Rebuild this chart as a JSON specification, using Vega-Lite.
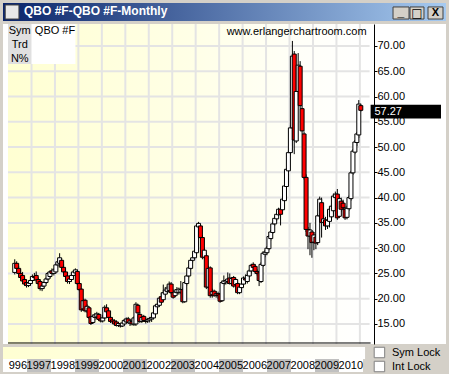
{
"$schema": "https://vega.github.io/schema/vega-lite/v6.json",
"background": "#d4d0c8",
"padding": {"left": 3, "right": 3, "top": 3, "bottom": 2},
"spacing": 2,
"config": {"view": {"stroke": null}, "font": "Liberation Sans"},
"resolve": {"scale": {"x": "independent", "y": "independent"}},
"datasets": {
"q": [
{"d":"1996-04-15","o":25.2,"h":27.8,"l":24.8,"c":27.0},
{"d":"1996-05-15","o":27.0,"h":27.4,"l":25.5,"c":26.0},
{"d":"1996-06-15","o":26.0,"h":26.5,"l":24.8,"c":25.0},
{"d":"1996-07-15","o":25.0,"h":25.8,"l":23.8,"c":24.2},
{"d":"1996-08-15","o":24.6,"h":25.3,"l":23.2,"c":23.5},
{"d":"1996-09-15","o":23.8,"h":24.2,"l":22.6,"c":22.9},
{"d":"1996-10-15","o":23.2,"h":23.6,"l":22.2,"c":22.6},
{"d":"1996-11-15","o":22.6,"h":23.4,"l":22.3,"c":23.1},
{"d":"1996-12-15","o":23.0,"h":23.9,"l":22.6,"c":23.6},
{"d":"1997-01-15","o":23.6,"h":24.8,"l":23.2,"c":24.4},
{"d":"1997-02-15","o":24.4,"h":25.1,"l":23.8,"c":24.2},
{"d":"1997-03-15","o":24.6,"h":25.4,"l":23.4,"c":23.7},
{"d":"1997-04-15","o":23.8,"h":24.2,"l":22.8,"c":23.0},
{"d":"1997-05-15","o":23.4,"h":23.8,"l":21.6,"c":22.0},
{"d":"1997-06-15","o":22.0,"h":22.8,"l":21.5,"c":22.5},
{"d":"1997-07-15","o":22.5,"h":23.4,"l":22.0,"c":23.2},
{"d":"1997-08-15","o":23.2,"h":24.2,"l":22.9,"c":23.9},
{"d":"1997-09-15","o":23.9,"h":25.3,"l":23.6,"c":25.0},
{"d":"1997-10-15","o":24.4,"h":25.6,"l":24.1,"c":25.3},
{"d":"1997-11-15","o":25.5,"h":26.0,"l":24.7,"c":25.0},
{"d":"1997-12-15","o":25.0,"h":26.0,"l":24.6,"c":25.7},
{"d":"1998-01-15","o":25.3,"h":27.0,"l":25.0,"c":26.7},
{"d":"1998-02-15","o":26.7,"h":27.8,"l":26.2,"c":27.3},
{"d":"1998-03-15","o":27.0,"h":29.0,"l":26.8,"c":28.1},
{"d":"1998-04-15","o":27.6,"h":28.0,"l":25.8,"c":26.2},
{"d":"1998-05-15","o":26.2,"h":26.8,"l":25.0,"c":25.3},
{"d":"1998-06-15","o":25.3,"h":25.8,"l":24.0,"c":24.4},
{"d":"1998-07-15","o":24.5,"h":24.9,"l":23.0,"c":23.4},
{"d":"1998-08-15","o":23.4,"h":24.3,"l":22.9,"c":23.9},
{"d":"1998-09-15","o":23.8,"h":25.0,"l":23.4,"c":24.6},
{"d":"1998-10-15","o":24.6,"h":25.6,"l":24.3,"c":25.3},
{"d":"1998-11-15","o":25.1,"h":26.0,"l":24.7,"c":25.7},
{"d":"1998-12-15","o":25.4,"h":25.8,"l":22.7,"c":23.0},
{"d":"1999-01-15","o":23.0,"h":23.4,"l":21.5,"c":21.8},
{"d":"1999-02-15","o":21.9,"h":22.0,"l":17.4,"c":17.8},
{"d":"1999-03-15","o":18.0,"h":20.0,"l":17.6,"c":19.6},
{"d":"1999-04-15","o":19.7,"h":20.0,"l":17.3,"c":17.6},
{"d":"1999-05-15","o":17.6,"h":18.9,"l":17.2,"c":18.5},
{"d":"1999-06-15","o":18.2,"h":18.5,"l":16.0,"c":16.3},
{"d":"1999-07-15","o":16.4,"h":16.6,"l":14.8,"c":15.1},
{"d":"1999-08-15","o":15.3,"h":16.9,"l":15.0,"c":16.5},
{"d":"1999-09-15","o":16.3,"h":17.2,"l":15.8,"c":16.8},
{"d":"1999-10-15","o":16.4,"h":17.4,"l":16.0,"c":17.0},
{"d":"1999-11-15","o":16.9,"h":17.2,"l":15.6,"c":15.9},
{"d":"1999-12-15","o":16.0,"h":16.4,"l":15.3,"c":15.6},
{"d":"2000-01-15","o":15.6,"h":16.8,"l":15.3,"c":16.2},
{"d":"2000-02-15","o":16.2,"h":18.7,"l":16.0,"c":18.3},
{"d":"2000-03-15","o":18.2,"h":18.9,"l":17.0,"c":17.4},
{"d":"2000-04-15","o":17.6,"h":18.0,"l":16.0,"c":16.3},
{"d":"2000-05-15","o":16.3,"h":16.6,"l":15.2,"c":15.5},
{"d":"2000-06-15","o":15.8,"h":16.2,"l":15.1,"c":15.4},
{"d":"2000-07-15","o":15.6,"h":15.9,"l":14.8,"c":15.0},
{"d":"2000-08-15","o":15.4,"h":15.7,"l":14.5,"c":14.7},
{"d":"2000-09-15","o":14.7,"h":15.4,"l":14.4,"c":15.1},
{"d":"2000-10-15","o":14.8,"h":15.2,"l":14.3,"c":14.6},
{"d":"2000-11-15","o":14.6,"h":15.4,"l":14.4,"c":15.2},
{"d":"2000-12-15","o":15.0,"h":16.0,"l":14.8,"c":15.7},
{"d":"2001-01-15","o":15.4,"h":16.3,"l":15.1,"c":16.0},
{"d":"2001-02-15","o":16.0,"h":16.4,"l":15.0,"c":15.3},
{"d":"2001-03-15","o":15.2,"h":15.8,"l":14.6,"c":15.6},
{"d":"2001-04-15","o":15.5,"h":16.0,"l":14.7,"c":15.0},
{"d":"2001-05-15","o":15.0,"h":16.5,"l":14.6,"c":16.2},
{"d":"2001-06-15","o":15.0,"h":19.3,"l":14.6,"c":18.9},
{"d":"2001-07-15","o":18.7,"h":19.0,"l":16.8,"c":17.2},
{"d":"2001-08-15","o":16.9,"h":17.3,"l":15.2,"c":15.5},
{"d":"2001-09-15","o":15.5,"h":16.6,"l":15.2,"c":16.3},
{"d":"2001-10-15","o":16.5,"h":16.8,"l":15.4,"c":15.7},
{"d":"2001-11-15","o":15.7,"h":16.2,"l":15.1,"c":15.5},
{"d":"2001-12-15","o":15.6,"h":16.2,"l":15.2,"c":15.9},
{"d":"2002-01-15","o":15.8,"h":16.4,"l":15.3,"c":16.1},
{"d":"2002-02-15","o":16.0,"h":16.6,"l":15.4,"c":16.3},
{"d":"2002-03-15","o":16.2,"h":17.6,"l":15.9,"c":17.2},
{"d":"2002-04-15","o":17.0,"h":18.9,"l":16.8,"c":18.6},
{"d":"2002-05-15","o":18.4,"h":19.2,"l":17.8,"c":18.9},
{"d":"2002-06-15","o":18.7,"h":20.4,"l":18.4,"c":20.1},
{"d":"2002-07-15","o":20.4,"h":21.2,"l":19.0,"c":19.3},
{"d":"2002-08-15","o":19.8,"h":22.8,"l":19.4,"c":21.2},
{"d":"2002-09-15","o":20.9,"h":22.3,"l":20.6,"c":21.7},
{"d":"2002-10-15","o":21.4,"h":22.6,"l":21.0,"c":22.1},
{"d":"2002-11-15","o":21.6,"h":23.4,"l":21.2,"c":22.9},
{"d":"2002-12-15","o":22.9,"h":23.3,"l":20.9,"c":21.2},
{"d":"2003-01-15","o":21.2,"h":21.8,"l":20.0,"c":20.3},
{"d":"2003-02-15","o":20.6,"h":21.8,"l":20.3,"c":21.3},
{"d":"2003-03-15","o":21.2,"h":22.3,"l":20.8,"c":21.8},
{"d":"2003-04-15","o":21.2,"h":22.2,"l":20.8,"c":21.9},
{"d":"2003-05-15","o":21.3,"h":23.5,"l":21.0,"c":21.8},
{"d":"2003-06-15","o":21.8,"h":22.2,"l":19.1,"c":19.4},
{"d":"2003-07-15","o":19.4,"h":23.5,"l":19.2,"c":23.2},
{"d":"2003-08-15","o":23.0,"h":24.8,"l":22.6,"c":24.5},
{"d":"2003-09-15","o":24.5,"h":26.5,"l":24.2,"c":26.1},
{"d":"2003-10-15","o":26.0,"h":27.9,"l":25.7,"c":27.6},
{"d":"2003-11-15","o":27.6,"h":28.6,"l":27.2,"c":28.1},
{"d":"2003-12-15","o":28.1,"h":29.8,"l":27.8,"c":29.4},
{"d":"2004-01-15","o":29.1,"h":34.7,"l":28.9,"c":34.4},
{"d":"2004-02-15","o":34.2,"h":35.2,"l":33.8,"c":34.9},
{"d":"2004-03-15","o":34.4,"h":34.8,"l":31.8,"c":32.1},
{"d":"2004-04-15","o":32.1,"h":32.6,"l":27.8,"c":28.2},
{"d":"2004-05-15","o":28.2,"h":30.0,"l":27.8,"c":29.6},
{"d":"2004-06-15","o":28.5,"h":29.0,"l":21.9,"c":22.3},
{"d":"2004-07-15","o":22.3,"h":26.5,"l":22.0,"c":26.0},
{"d":"2004-08-15","o":26.1,"h":26.4,"l":20.2,"c":20.6},
{"d":"2004-09-15","o":20.8,"h":22.0,"l":20.2,"c":21.4},
{"d":"2004-10-15","o":21.5,"h":21.8,"l":20.4,"c":20.6},
{"d":"2004-11-15","o":20.7,"h":21.5,"l":20.2,"c":21.0},
{"d":"2004-12-15","o":21.0,"h":21.4,"l":20.0,"c":20.6},
{"d":"2005-01-15","o":20.9,"h":21.1,"l":19.2,"c":19.5},
{"d":"2005-02-15","o":19.6,"h":23.6,"l":19.4,"c":23.2},
{"d":"2005-03-15","o":23.0,"h":24.6,"l":22.6,"c":23.5},
{"d":"2005-04-15","o":23.3,"h":23.9,"l":22.8,"c":23.6},
{"d":"2005-05-15","o":23.4,"h":25.2,"l":22.9,"c":23.9},
{"d":"2005-06-15","o":24.1,"h":25.0,"l":22.8,"c":23.0},
{"d":"2005-07-15","o":23.0,"h":24.3,"l":22.6,"c":24.0},
{"d":"2005-08-15","o":24.2,"h":24.5,"l":22.2,"c":22.5},
{"d":"2005-09-15","o":22.8,"h":24.0,"l":22.4,"c":23.8},
{"d":"2005-10-15","o":23.0,"h":23.3,"l":20.9,"c":21.2},
{"d":"2005-11-15","o":21.2,"h":22.6,"l":20.9,"c":22.3},
{"d":"2005-12-15","o":22.2,"h":23.2,"l":21.9,"c":22.9},
{"d":"2006-01-15","o":22.9,"h":24.4,"l":22.6,"c":24.1},
{"d":"2006-02-15","o":24.0,"h":24.8,"l":23.4,"c":23.7},
{"d":"2006-03-15","o":23.4,"h":25.0,"l":23.0,"c":24.6},
{"d":"2006-04-15","o":24.5,"h":25.8,"l":24.2,"c":25.5},
{"d":"2006-05-15","o":25.5,"h":26.9,"l":25.0,"c":26.6},
{"d":"2006-06-15","o":26.8,"h":27.2,"l":25.8,"c":26.2},
{"d":"2006-07-15","o":26.4,"h":26.8,"l":25.0,"c":25.4},
{"d":"2006-08-15","o":25.4,"h":25.8,"l":24.6,"c":25.0},
{"d":"2006-09-15","o":25.1,"h":25.4,"l":22.5,"c":23.6},
{"d":"2006-10-15","o":23.4,"h":27.2,"l":23.1,"c":26.8},
{"d":"2006-11-15","o":26.6,"h":29.4,"l":26.3,"c":29.0},
{"d":"2006-12-15","o":28.8,"h":29.6,"l":28.2,"c":29.2},
{"d":"2007-01-15","o":29.1,"h":30.4,"l":28.6,"c":30.0},
{"d":"2007-02-15","o":29.9,"h":32.6,"l":29.6,"c":32.3},
{"d":"2007-03-15","o":31.9,"h":33.6,"l":31.5,"c":33.2},
{"d":"2007-04-15","o":33.1,"h":35.2,"l":32.8,"c":34.8},
{"d":"2007-05-15","o":34.8,"h":36.3,"l":34.4,"c":35.9},
{"d":"2007-06-15","o":35.8,"h":37.0,"l":35.4,"c":36.7},
{"d":"2007-07-15","o":36.6,"h":38.0,"l":36.3,"c":37.7},
{"d":"2007-08-15","o":37.7,"h":38.2,"l":34.5,"c":36.7},
{"d":"2007-09-15","o":37.6,"h":40.0,"l":37.4,"c":39.7},
{"d":"2007-10-15","o":39.4,"h":42.6,"l":39.1,"c":42.3},
{"d":"2007-11-15","o":42.2,"h":45.9,"l":41.8,"c":45.6},
{"d":"2007-12-15","o":45.3,"h":49.3,"l":44.9,"c":48.9},
{"d":"2008-01-15","o":48.9,"h":54.3,"l":48.4,"c":53.8},
{"d":"2008-02-15","o":53.8,"h":71.0,"l":53.4,"c":68.0},
{"d":"2008-03-15","o":68.4,"h":69.0,"l":48.6,"c":51.4},
{"d":"2008-04-15","o":51.2,"h":61.6,"l":50.8,"c":61.0},
{"d":"2008-05-15","o":61.0,"h":68.6,"l":60.5,"c":66.2},
{"d":"2008-06-15","o":66.0,"h":67.0,"l":57.6,"c":58.2},
{"d":"2008-07-15","o":57.6,"h":58.2,"l":52.6,"c":53.2},
{"d":"2008-08-15","o":52.6,"h":53.1,"l":43.6,"c":44.0},
{"d":"2008-09-15","o":44.0,"h":44.6,"l":33.2,"c":33.7},
{"d":"2008-10-15","o":33.7,"h":34.2,"l":29.8,"c":32.4},
{"d":"2008-11-15","o":32.4,"h":35.0,"l":28.6,"c":33.6},
{"d":"2008-12-15","o":33.2,"h":33.6,"l":28.1,"c":31.1},
{"d":"2009-01-15","o":31.2,"h":33.2,"l":29.6,"c":32.6},
{"d":"2009-02-15","o":32.2,"h":32.8,"l":29.8,"c":31.0},
{"d":"2009-03-15","o":31.1,"h":36.8,"l":30.6,"c":36.4},
{"d":"2009-04-15","o":36.4,"h":40.2,"l":36.0,"c":39.7},
{"d":"2009-05-15","o":39.0,"h":40.0,"l":32.1,"c":35.1},
{"d":"2009-06-15","o":35.1,"h":36.6,"l":34.6,"c":35.8},
{"d":"2009-07-15","o":35.6,"h":36.2,"l":33.6,"c":34.4},
{"d":"2009-08-15","o":34.4,"h":36.0,"l":33.8,"c":35.5},
{"d":"2009-09-15","o":35.3,"h":38.0,"l":34.1,"c":37.7},
{"d":"2009-10-15","o":36.2,"h":38.6,"l":35.8,"c":38.3},
{"d":"2009-11-15","o":37.4,"h":40.8,"l":36.9,"c":40.3},
{"d":"2009-12-15","o":40.0,"h":41.2,"l":39.2,"c":40.7},
{"d":"2010-01-15","o":40.7,"h":41.7,"l":35.6,"c":36.0},
{"d":"2010-02-15","o":36.3,"h":40.2,"l":36.0,"c":39.8},
{"d":"2010-03-15","o":39.3,"h":40.0,"l":37.2,"c":37.7},
{"d":"2010-04-15","o":38.9,"h":39.6,"l":37.5,"c":38.0},
{"d":"2010-05-15","o":37.7,"h":38.2,"l":35.6,"c":36.0},
{"d":"2010-06-15","o":36.1,"h":38.4,"l":35.7,"c":37.9},
{"d":"2010-07-15","o":37.8,"h":40.4,"l":37.4,"c":40.0},
{"d":"2010-08-15","o":39.8,"h":45.3,"l":39.4,"c":44.9},
{"d":"2010-09-15","o":44.9,"h":49.6,"l":44.5,"c":49.2},
{"d":"2010-10-15","o":49.0,"h":51.4,"l":48.6,"c":51.0},
{"d":"2010-11-15","o":50.9,"h":53.0,"l":50.2,"c":52.6},
{"d":"2010-12-15","o":52.4,"h":59.3,"l":51.8,"c":58.5},
{"d":"2011-01-15","o":58.2,"h":58.6,"l":57.0,"c":57.27}
],
"years": [
{"s":"1996-01-01","e":"1997-01-01","t":"996"},
{"s":"1997-01-01","e":"1998-01-01","t":"1997"},
{"s":"1998-01-01","e":"1999-01-01","t":"1998"},
{"s":"1999-01-01","e":"2000-01-01","t":"1999"},
{"s":"2000-01-01","e":"2001-01-01","t":"2000"},
{"s":"2001-01-01","e":"2002-01-01","t":"2001"},
{"s":"2002-01-01","e":"2003-01-01","t":"2002"},
{"s":"2003-01-01","e":"2004-01-01","t":"2003"},
{"s":"2004-01-01","e":"2005-01-01","t":"2004"},
{"s":"2005-01-01","e":"2006-01-01","t":"2005"},
{"s":"2006-01-01","e":"2007-01-01","t":"2006"},
{"s":"2007-01-01","e":"2008-01-01","t":"2007"},
{"s":"2008-01-01","e":"2009-01-01","t":"2008"},
{"s":"2009-01-01","e":"2010-01-01","t":"2009"},
{"s":"2010-01-01","e":"2011-01-01","t":"2010"}
],
"levels": [{"v":15},{"v":20},{"v":25},{"v":30},{"v":35},{"v":40},{"v":45},{"v":50},{"v":55},{"v":60},{"v":65},{"v":70}]
},
"vconcat": [
{
"width": 443, "height": 18,
"title": {"text": "QBO #F-QBO #F-Monthly", "anchor": "start", "orient": "top", "offset": -15, "dx": 21, "color": "#ffffff", "font": "Liberation Sans", "fontSize": 12, "fontWeight": "bold"},
"layer": [
{
"data": {"values": [{}]},
"mark": {"type": "rect", "color": {"gradient": "linear", "x1": 0, "x2": 1, "y1": 0, "y2": 0, "stops": [{"offset": 0, "color": "#0a246a"}, {"offset": 1, "color": "#a6caf0"}]}},
"encoding": {
"x": {"datum": 0, "type": "quantitative", "scale": {"domain": [0, 1], "nice": false}, "axis": null},
"x2": {"datum": 1},
"y": {"datum": 0, "type": "quantitative", "scale": {"domain": [0, 1], "nice": false}, "axis": null},
"y2": {"datum": 1}
}
},
{
"data": {"values": [{}]},
"mark": {"type": "rect", "color": "#e8e8e8", "stroke": "#404040", "strokeWidth": 1},
"encoding": {
"x": {"datum": 0.005, "type": "quantitative", "scale": {"domain": [0, 1], "nice": false}, "axis": null},
"x2": {"datum": 0.036},
"y": {"datum": 0.11, "type": "quantitative", "scale": {"domain": [0, 1], "nice": false}, "axis": null},
"y2": {"datum": 0.89}
}
},
{
"data": {"values": [{"t": "_"}]},
"layer": [
{"mark": {"type": "rect", "color": "#d4d0c8", "stroke": "#404040", "strokeWidth": 1},
"encoding": {
"x": {"datum": 0.8804, "type": "quantitative", "scale": {"domain": [0, 1], "nice": false}, "axis": null},
"x2": {"datum": 0.9165},
"y": {"datum": 0.11, "type": "quantitative", "scale": {"domain": [0, 1], "nice": false}, "axis": null},
"y2": {"datum": 0.78}}},
{"mark": {"type": "text", "align": "center", "baseline": "middle", "fontSize": 12, "fontWeight": "bold", "color": "#000000", "dy": -1},
"encoding": {
"x": {"datum": 0.898, "type": "quantitative", "scale": {"domain": [0, 1], "nice": false}, "axis": null},
"y": {"datum": 0.45, "type": "quantitative", "scale": {"domain": [0, 1], "nice": false}, "axis": null},
"text": {"field": "t"}}}
]
},
{
"data": {"values": [{"t": "□"}]},
"layer": [
{"mark": {"type": "rect", "color": "#d4d0c8", "stroke": "#404040", "strokeWidth": 1},
"encoding": {
"x": {"datum": 0.9188, "type": "quantitative", "scale": {"domain": [0, 1], "nice": false}, "axis": null},
"x2": {"datum": 0.9503},
"y": {"datum": 0.11, "type": "quantitative", "scale": {"domain": [0, 1], "nice": false}, "axis": null},
"y2": {"datum": 0.78}}},
{"mark": {"type": "text", "align": "center", "baseline": "middle", "fontSize": 12, "font": "DejaVu Sans", "fontWeight": "bold", "color": "#000000"},
"encoding": {
"x": {"datum": 0.9345, "type": "quantitative", "scale": {"domain": [0, 1], "nice": false}, "axis": null},
"y": {"datum": 0.45, "type": "quantitative", "scale": {"domain": [0, 1], "nice": false}, "axis": null},
"text": {"field": "t"}}}
]
},
{
"data": {"values": [{"t": "X"}]},
"layer": [
{"mark": {"type": "rect", "color": "#d4d0c8", "stroke": "#404040", "strokeWidth": 1},
"encoding": {
"x": {"datum": 0.9594, "type": "quantitative", "scale": {"domain": [0, 1], "nice": false}, "axis": null},
"x2": {"datum": 0.9932},
"y": {"datum": 0.11, "type": "quantitative", "scale": {"domain": [0, 1], "nice": false}, "axis": null},
"y2": {"datum": 0.78}}},
{"mark": {"type": "text", "align": "center", "baseline": "middle", "fontSize": 11, "fontWeight": "bold", "color": "#000000"},
"encoding": {
"x": {"datum": 0.9763, "type": "quantitative", "scale": {"domain": [0, 1], "nice": false}, "axis": null},
"y": {"datum": 0.45, "type": "quantitative", "scale": {"domain": [0, 1], "nice": false}, "axis": null},
"text": {"field": "t"}}}
]
}
]
},
{
"spacing": 0,
"resolve": {"scale": {"x": "independent", "y": "independent"}},
"vconcat": [
{
"width": 443, "height": 320,
"view": {"fill": "#ffffff"},
"resolve": {"axis": {"x": "independent", "y": "independent"}},
"layer": [
{
"data": {"values": [{}]},
"mark": {"type": "rect", "color": {"gradient": "linear", "x1": 0, "x2": 1, "y1": 0, "y2": 0, "stops": [{"offset": 0, "color": "#ffffd2"}, {"offset": 0.5, "color": "#ffffe6"}, {"offset": 0.8, "color": "#fffff8"}, {"offset": 1, "color": "#ffffff"}]}},
"encoding": {
"x": {"datum": {"year": 1996, "month": 1, "date": 1, "utc": true}, "type": "temporal", "scale": {"domain": [{"year": 1996, "month": 1, "date": 1, "utc": true}, {"year": 2014, "month": 6, "date": 17, "utc": true}]}, "axis": null},
"x2": {"datum": {"year": 2011, "month": 6, "date": 1, "utc": true}},
"y": {"datum": 74.35, "type": "quantitative", "scale": {"domain": [11.04, 74.35], "nice": false, "zero": false}, "axis": null},
"y2": {"datum": 11.04}
}
},
{
"data": {"name": "years"},
"mark": {"type": "rule", "color": "#e4e4e4", "strokeWidth": 2},
"encoding": {
"x": {"field": "e", "type": "temporal", "scale": {"domain": [{"year": 1996, "month": 1, "date": 1, "utc": true}, {"year": 2014, "month": 6, "date": 17, "utc": true}]}, "axis": null},
"y": {"datum": 74.35, "type": "quantitative", "scale": {"domain": [11.04, 74.35], "nice": false, "zero": false}, "axis": null},
"y2": {"datum": 11.04}
}
},
{
"data": {"name": "levels"},
"mark": {"type": "rule", "color": "#e4e4e4", "strokeWidth": 2},
"encoding": {
"x": {"datum": {"year": 1996, "month": 1, "date": 1, "utc": true}, "type": "temporal", "scale": {"domain": [{"year": 1996, "month": 1, "date": 1, "utc": true}, {"year": 2014, "month": 6, "date": 17, "utc": true}]}, "axis": null},
"x2": {"datum": {"year": 2011, "month": 6, "date": 1, "utc": true}},
"y": {"field": "v", "type": "quantitative", "scale": {"domain": [11.04, 74.35], "nice": false, "zero": false},
"axis": {"orient": "right", "offset": -72, "values": [15, 20, 25, 30, 35, 40, 45, 50, 55, 60, 65, 70], "format": ".2f", "grid": false, "title": null, "domainColor": "#000000", "domainWidth": 1, "tickColor": "#000000", "tickSize": 3, "tickWidth": 1, "labelPadding": 0, "labelFont": "Liberation Sans", "labelFontSize": 11, "labelColor": "#000000", "labelFlush": false, "labelOverlap": false, "zindex": 0}}
}
},
{
"data": {"values": [{}]},
"mark": {"type": "rect", "color": "#e0e0e0"},
"encoding": {
"x": {"datum": {"year": 1996, "month": 1, "date": 1, "utc": true}, "type": "temporal", "scale": {"domain": [{"year": 1996, "month": 1, "date": 1, "utc": true}, {"year": 2014, "month": 6, "date": 17, "utc": true}]}, "axis": null},
"x2": {"datum": {"year": 1997, "month": 1, "date": 1, "utc": true}},
"y": {"datum": 74.35, "type": "quantitative", "scale": {"domain": [11.04, 74.35], "nice": false, "zero": false}, "axis": null},
"y2": {"datum": 66.44}
}
},
{
"data": {"values": [{}]},
"mark": {"type": "rect", "color": "#ffffff"},
"encoding": {
"x": {"datum": {"year": 1997, "month": 1, "date": 1, "utc": true}, "type": "temporal", "scale": {"domain": [{"year": 1996, "month": 1, "date": 1, "utc": true}, {"year": 2014, "month": 6, "date": 17, "utc": true}]}, "axis": null},
"x2": {"datum": {"year": 1998, "month": 11, "date": 16, "utc": true}},
"y": {"datum": 74.35, "type": "quantitative", "scale": {"domain": [11.04, 74.35], "nice": false, "zero": false}, "axis": null},
"y2": {"datum": 66.44}
}
},
{
"data": {"values": [{"t": "Sym"}]},
"mark": {"type": "text", "align": "center", "baseline": "middle", "fontSize": 11, "color": "#000000"},
"encoding": {
"x": {"datum": {"year": 1996, "month": 7, "date": 2, "utc": true}, "type": "temporal", "scale": {"domain": [{"year": 1996, "month": 1, "date": 1, "utc": true}, {"year": 2014, "month": 6, "date": 17, "utc": true}]}, "axis": null},
"y": {"datum": 72.9, "type": "quantitative", "scale": {"domain": [11.04, 74.35], "nice": false, "zero": false}, "axis": null},
"text": {"field": "t"}
}
},
{
"data": {"values": [{"t": "Trd"}]},
"mark": {"type": "text", "align": "center", "baseline": "middle", "fontSize": 11, "color": "#000000"},
"encoding": {
"x": {"datum": {"year": 1996, "month": 7, "date": 2, "utc": true}, "type": "temporal", "scale": {"domain": [{"year": 1996, "month": 1, "date": 1, "utc": true}, {"year": 2014, "month": 6, "date": 17, "utc": true}]}, "axis": null},
"y": {"datum": 70.25, "type": "quantitative", "scale": {"domain": [11.04, 74.35], "nice": false, "zero": false}, "axis": null},
"text": {"field": "t"}
}
},
{
"data": {"values": [{"t": "N%"}]},
"mark": {"type": "text", "align": "center", "baseline": "middle", "fontSize": 11, "color": "#000000"},
"encoding": {
"x": {"datum": {"year": 1996, "month": 7, "date": 2, "utc": true}, "type": "temporal", "scale": {"domain": [{"year": 1996, "month": 1, "date": 1, "utc": true}, {"year": 2014, "month": 6, "date": 17, "utc": true}]}, "axis": null},
"y": {"datum": 67.43, "type": "quantitative", "scale": {"domain": [11.04, 74.35], "nice": false, "zero": false}, "axis": null},
"text": {"field": "t"}
}
},
{
"data": {"values": [{"t": "QBO #F"}]},
"mark": {"type": "text", "align": "left", "baseline": "middle", "fontSize": 11, "color": "#000000"},
"encoding": {
"x": {"datum": {"year": 1997, "month": 2, "date": 22, "utc": true}, "type": "temporal", "scale": {"domain": [{"year": 1996, "month": 1, "date": 1, "utc": true}, {"year": 2014, "month": 6, "date": 17, "utc": true}]}, "axis": null},
"y": {"datum": 72.9, "type": "quantitative", "scale": {"domain": [11.04, 74.35], "nice": false, "zero": false}, "axis": null},
"text": {"field": "t"}
}
},
{
"data": {"values": [{"t": "www.erlangerchartroom.com"}]},
"mark": {"type": "text", "align": "right", "baseline": "middle", "fontSize": 11, "color": "#000000"},
"encoding": {
"x": {"datum": {"year": 2011, "month": 4, "date": 16, "utc": true}, "type": "temporal", "scale": {"domain": [{"year": 1996, "month": 1, "date": 1, "utc": true}, {"year": 2014, "month": 6, "date": 17, "utc": true}]}, "axis": null},
"y": {"datum": 72.83, "type": "quantitative", "scale": {"domain": [11.04, 74.35], "nice": false, "zero": false}, "axis": null},
"text": {"field": "t"}
}
},
{
"data": {"name": "q"},
"mark": {"type": "rule", "color": "#000000", "strokeWidth": 1},
"encoding": {
"x": {"field": "d", "type": "temporal", "scale": {"domain": [{"year": 1996, "month": 1, "date": 1, "utc": true}, {"year": 2014, "month": 6, "date": 17, "utc": true}]}, "axis": null},
"y": {"field": "l", "type": "quantitative", "scale": {"domain": [11.04, 74.35], "nice": false, "zero": false}, "axis": null},
"y2": {"field": "h"}
}
},
{
"data": {"name": "q"},
"mark": {"type": "bar", "width": 4, "stroke": "#000000", "strokeWidth": 1},
"encoding": {
"x": {"field": "d", "type": "temporal", "scale": {"domain": [{"year": 1996, "month": 1, "date": 1, "utc": true}, {"year": 2014, "month": 6, "date": 17, "utc": true}]}, "axis": null},
"y": {"field": "o", "type": "quantitative", "scale": {"domain": [11.04, 74.35], "nice": false, "zero": false}, "axis": null},
"y2": {"field": "c"},
"fill": {"condition": {"test": "datum.c < datum.o", "value": "#ff0000"}, "value": "#ffffff"}
}
},
{
"data": {"values": [{}]},
"mark": {"type": "rule", "color": "#000000", "strokeWidth": 1},
"encoding": {
"x": {"datum": {"year": 1996, "month": 1, "date": 1, "utc": true}, "type": "temporal", "scale": {"domain": [{"year": 1996, "month": 1, "date": 1, "utc": true}, {"year": 2014, "month": 6, "date": 17, "utc": true}]}, "axis": null},
"x2": {"datum": {"year": 2011, "month": 6, "date": 17, "utc": true}},
"y": {"datum": 11.24, "type": "quantitative", "scale": {"domain": [11.04, 74.35], "nice": false, "zero": false}, "axis": null}
}
},
{
"data": {"values": [{}]},
"mark": {"type": "rect", "color": "#000000"},
"encoding": {
"x": {"datum": {"year": 2011, "month": 6, "date": 17, "utc": true}, "type": "temporal", "scale": {"domain": [{"year": 1996, "month": 1, "date": 1, "utc": true}, {"year": 2014, "month": 6, "date": 17, "utc": true}]}, "axis": null},
"x2": {"datum": {"year": 2014, "month": 6, "date": 17, "utc": true}},
"y": {"datum": 58.35, "type": "quantitative", "scale": {"domain": [11.04, 74.35], "nice": false, "zero": false}, "axis": null},
"y2": {"datum": 55.64}
}
},
{
"data": {"values": [{"t": "57.27"}]},
"mark": {"type": "text", "align": "left", "baseline": "middle", "fontSize": 11, "color": "#ffffff"},
"encoding": {
"x": {"datum": {"year": 2011, "month": 8, "date": 16, "utc": true}, "type": "temporal", "scale": {"domain": [{"year": 1996, "month": 1, "date": 1, "utc": true}, {"year": 2014, "month": 6, "date": 17, "utc": true}]}, "axis": null},
"y": {"datum": 56.98, "type": "quantitative", "scale": {"domain": [11.04, 74.35], "nice": false, "zero": false}, "axis": null},
"text": {"field": "t"}
}
}
]
},
{
"width": 443, "height": 29,
"view": {"fill": "#d4d0c8"},
"layer": [
{
"data": {"values": [{}]},
"mark": {"type": "rect", "color": {"gradient": "linear", "x1": 0, "x2": 1, "y1": 0, "y2": 0, "stops": [{"offset": 0, "color": "#ffffd2"}, {"offset": 0.5, "color": "#ffffe6"}, {"offset": 0.8, "color": "#fffff8"}, {"offset": 1, "color": "#ffffff"}]}},
"encoding": {
"x": {"datum": {"year": 1996, "month": 1, "date": 1, "utc": true}, "type": "temporal", "scale": {"domain": [{"year": 1996, "month": 1, "date": 1, "utc": true}, {"year": 2014, "month": 6, "date": 17, "utc": true}]}, "axis": null},
"x2": {"datum": {"year": 2011, "month": 2, "date": 1, "utc": true}},
"y": {"datum": 17, "type": "quantitative", "scale": {"domain": [0, 29], "nice": false, "zero": false}, "axis": null},
"y2": {"datum": 29}
}
},
{
"data": {"name": "years"},
"mark": {"type": "rect"},
"encoding": {
"x": {"field": "s", "type": "temporal", "scale": {"domain": [{"year": 1996, "month": 1, "date": 1, "utc": true}, {"year": 2014, "month": 6, "date": 17, "utc": true}]}, "axis": null},
"x2": {"field": "e"},
"y": {"datum": 4, "type": "quantitative", "scale": {"domain": [0, 29], "nice": false, "zero": false}, "axis": null},
"y2": {"datum": 17},
"fill": {"condition": {"test": "utcyear(datum.s) % 2 == 1", "value": "#c0c0c0"}, "value": "#ffffff"}
}
},
{
"data": {"name": "years"},
"mark": {"type": "text", "align": "right", "baseline": "middle", "fontSize": 11, "color": "#000000"},
"encoding": {
"x": {"field": "e", "type": "temporal", "scale": {"domain": [{"year": 1996, "month": 1, "date": 1, "utc": true}, {"year": 2014, "month": 6, "date": 17, "utc": true}]}, "axis": null},
"y": {"datum": 9.8, "type": "quantitative", "scale": {"domain": [0, 29], "nice": false, "zero": false}, "axis": null},
"text": {"field": "t"}
}
},
{
"data": {"values": [{}]},
"mark": {"type": "point", "shape": "square", "size": 110, "filled": true, "fill": "#ffffff", "stroke": "#808080", "strokeWidth": 1, "opacity": 1},
"encoding": {
"x": {"datum": {"year": 2011, "month": 9, "date": 8, "utc": true}, "type": "temporal", "scale": {"domain": [{"year": 1996, "month": 1, "date": 1, "utc": true}, {"year": 2014, "month": 6, "date": 17, "utc": true}]}, "axis": null},
"y": {"datum": 23.5, "type": "quantitative", "scale": {"domain": [0, 29], "nice": false, "zero": false}, "axis": null}
}
},
{
"data": {"values": [{}]},
"mark": {"type": "point", "shape": "square", "size": 110, "filled": true, "fill": "#ffffff", "stroke": "#808080", "strokeWidth": 1, "opacity": 1},
"encoding": {
"x": {"datum": {"year": 2011, "month": 9, "date": 8, "utc": true}, "type": "temporal", "scale": {"domain": [{"year": 1996, "month": 1, "date": 1, "utc": true}, {"year": 2014, "month": 6, "date": 17, "utc": true}]}, "axis": null},
"y": {"datum": 9.5, "type": "quantitative", "scale": {"domain": [0, 29], "nice": false, "zero": false}, "axis": null}
}
},
{
"data": {"values": [{"t": "Sym Lock"}]},
"mark": {"type": "text", "align": "left", "baseline": "middle", "fontSize": 11, "color": "#000000"},
"encoding": {
"x": {"datum": {"year": 2012, "month": 3, "date": 17, "utc": true}, "type": "temporal", "scale": {"domain": [{"year": 1996, "month": 1, "date": 1, "utc": true}, {"year": 2014, "month": 6, "date": 17, "utc": true}]}, "axis": null},
"y": {"datum": 23, "type": "quantitative", "scale": {"domain": [0, 29], "nice": false, "zero": false}, "axis": null},
"text": {"field": "t"}
}
},
{
"data": {"values": [{"t": "Int Lock"}]},
"mark": {"type": "text", "align": "left", "baseline": "middle", "fontSize": 11, "color": "#000000"},
"encoding": {
"x": {"datum": {"year": 2012, "month": 3, "date": 17, "utc": true}, "type": "temporal", "scale": {"domain": [{"year": 1996, "month": 1, "date": 1, "utc": true}, {"year": 2014, "month": 6, "date": 17, "utc": true}]}, "axis": null},
"y": {"datum": 9.3, "type": "quantitative", "scale": {"domain": [0, 29], "nice": false, "zero": false}, "axis": null},
"text": {"field": "t"}
}
}
]
}
]
}
]
}
